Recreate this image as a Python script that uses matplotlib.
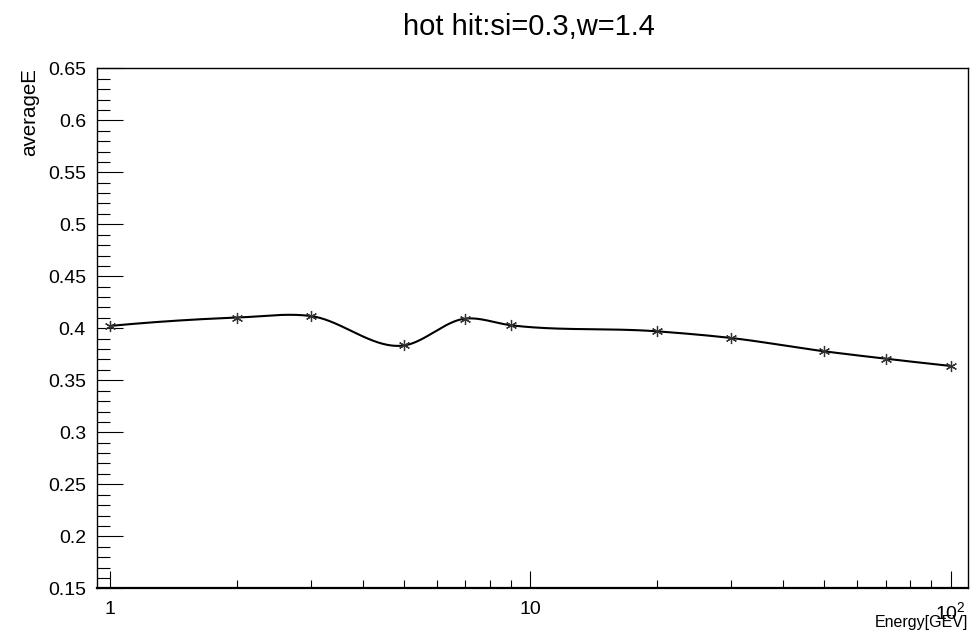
import numpy as np
import matplotlib
matplotlib.use("Agg")
import matplotlib.pyplot as plt
from matplotlib.ticker import FixedLocator, FixedFormatter, MultipleLocator, NullFormatter

energy = [1, 2, 3, 5, 7, 9, 20, 30, 50, 70, 100]
average_e = [0.4023, 0.4103, 0.4118, 0.3835, 0.4093, 0.4029, 0.3971, 0.3907, 0.3779, 0.3708, 0.3638]
x_tick_vals = [1, 10, 100]
x_tick_labels = ["1", "10", r"$10^{2}$"]
title = "hot hit:si=0.3,w=1.4"
xlabel = "Energy[GEV]"
ylabel = "averageE"

plt.rcParams['font.family'] = ['Liberation Sans', 'DejaVu Sans']
plt.rcParams['mathtext.fontset'] = 'custom'
plt.rcParams['mathtext.rm'] = 'Liberation Sans'
plt.rcParams['mathtext.it'] = 'Liberation Sans'


def hermite_smooth(xk, yk, n=60):
    """Cubic Hermite curve with Bessel (three-point) tangents, for drawing only."""
    xk = np.asarray(xk, float); yk = np.asarray(yk, float)
    h = np.diff(xk)
    d = np.diff(yk) / h
    m = np.empty_like(yk)
    m[1:-1] = (h[:-1] * d[1:] + h[1:] * d[:-1]) / (h[:-1] + h[1:])
    m[0] = 2 * d[0] - m[1]
    m[-1] = 2 * d[-1] - m[-2]
    xs_all, ys_all = [], []
    for i in range(len(h)):
        t = np.linspace(0, 1, n, endpoint=False)
        h00 = 2 * t**3 - 3 * t**2 + 1
        h10 = t**3 - 2 * t**2 + t
        h01 = -2 * t**3 + 3 * t**2
        h11 = t**3 - t**2
        xs_all.append(xk[i] + t * h[i])
        ys_all.append(h00 * yk[i] + h10 * h[i] * m[i] + h01 * yk[i + 1] + h11 * h[i] * m[i + 1])
    xs_all.append([xk[-1]]); ys_all.append([yk[-1]])
    return np.concatenate(xs_all), np.concatenate(ys_all)


fig = plt.figure(figsize=(9.79, 6.4), dpi=100)
ax = fig.add_axes([97 / 979, 1 - 588.3 / 640, (968 - 97) / 979, (588.3 - 68.3) / 640])

cu, cy = hermite_smooth(np.log10(energy), average_e)
ax.plot(10 ** cu, cy, color='black', lw=1.5)
ax.plot(energy, average_e, linestyle='none', marker=(6, 2, 0), ms=8, mew=0.9, color='#333333')

ax.set_xscale('log')
ax.set_xlim(0.93, 110)
ax.set_ylim(0.15, 0.65)

ax.xaxis.set_major_locator(FixedLocator(x_tick_vals))
ax.xaxis.set_major_formatter(FixedFormatter(x_tick_labels))
minors = [m * d for d in (1, 10) for m in range(2, 10)]
ax.xaxis.set_minor_locator(FixedLocator(minors))
ax.xaxis.set_minor_formatter(NullFormatter())
ax.yaxis.set_major_locator(MultipleLocator(0.05))
ax.yaxis.set_minor_locator(MultipleLocator(0.01))
ax.yaxis.set_major_formatter(matplotlib.ticker.FuncFormatter(lambda v, p: ('%.2f' % v).rstrip('0').rstrip('.')))

ax.tick_params(axis='both', which='both', direction='in', top=False, right=False, colors='black', labelsize=14)
ax.tick_params(axis='y', which='major', length=19, width=0.8, pad=8)
ax.tick_params(axis='y', which='minor', length=9.5, width=0.8)
ax.tick_params(axis='x', which='major', length=12, width=0.8, pad=9)
ax.tick_params(axis='x', which='minor', length=6, width=0.8)
for s in ax.spines.values():
    s.set_linewidth(1.0)
ax.spines['bottom'].set_linewidth(1.6)

fig.text(529 / 979, 1 - 27 / 640, title, ha='center', va='center', fontsize=21)
fig.text(968 / 979, 1 - 627 / 640, xlabel, ha='right', va='baseline', fontsize=11.5)
fig.text(30 / 979, 1 - 68 / 640, ylabel, ha='center', va='top', rotation=90, fontsize=14.8)

fig.savefig('out.png', dpi=100)
